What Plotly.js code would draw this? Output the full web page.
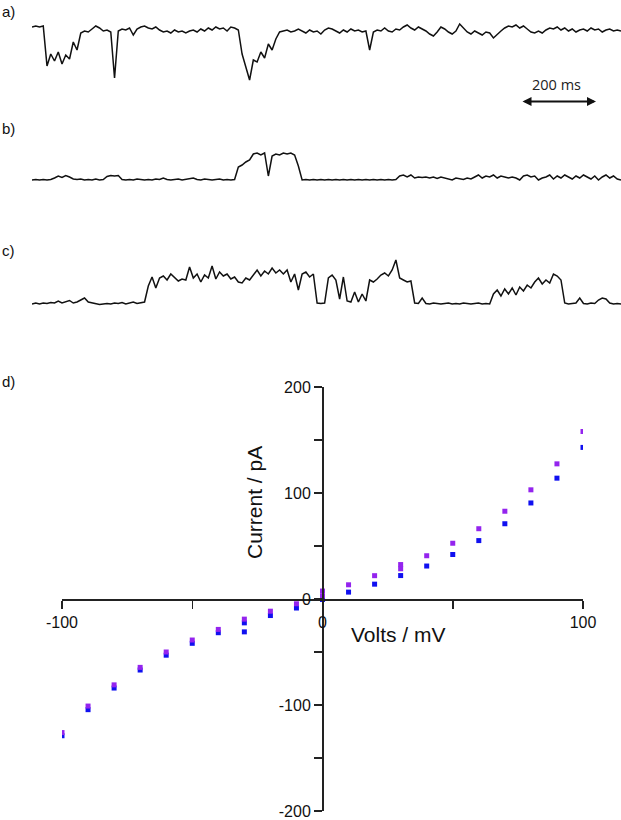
<!DOCTYPE html>
<html>
<head>
<meta charset="utf-8">
<script src="https://cdn.plot.ly/plotly-3.0.1.min.js"></script>
<style>
html,body{margin:0;padding:0;background:#fff;}
#chart{width:621px;height:820px;}
</style>
</head>
<body>
<div id="chart"></div>
<script>
// ---------- data ----------
const DT_MS = 10; // sampling interval of the single-channel recordings (ms)

// trace a) current relative to baseline (arbitrary units)
const traceA = [3,4,3,4,-36,-24,-31,-22,-34,-25,-29,-12,-20,-3,-1,-2,1,4,2,-1,
  0,-2,-48,-1,1,0,2,-5,1,3,4,2,1,3,0,-2,-1,-3,0,-2,
  -1,-3,-1,0,-2,1,-1,2,0,3,1,2,-1,3,2,0,-24,-36,-50,-30,
  -32,-22,-28,-14,-20,-9,-2,-1,0,-2,-1,1,-1,-3,0,-2,-1,-4,0,2,
  1,-1,-3,0,-2,1,-1,0,-2,-1,-20,-2,0,-1,2,-1,-2,1,0,3,
  5,2,0,3,1,-1,-4,-6,-2,3,1,-2,-4,-1,6,2,-2,-4,-1,-3,
  -5,-2,-3,-8,-4,-1,2,4,3,5,2,4,1,-2,-3,-1,-3,0,2,1,
  3,0,2,-1,1,-2,0,1,-1,2,0,1,-2,0,1,-1,0,-1];

// trace b)
const traceB = [0,0.5,0,0.5,0,0.5,2,4,2.5,4.5,3,1,0.5,1,0,0.5,0,1,0,0.5,
  3.5,4.5,4,4.5,0.5,0,0.5,0,1,0.5,0,0.5,0,1,0.5,2,0.5,0,0.5,1,
  0,0.5,1,2,0.5,0,1,0.5,0,0.5,1,0,0.5,0,0.5,13,15,18,20,26,
  27,25,27,4,24,26,25,27,26,27,25,14,0,0.5,0,0.5,0,0.5,0,0.5,
  0,0.5,0,0.5,0,0.5,0,0.5,0,0.5,0,0.5,0,0.5,0,0.5,0,0.5,4,5,
  3,5,2,3,2.5,3,2,3,1.5,3,2,1,0,2,1,0.5,2,1,3,5,
  2,4,3,5,2,4,3,2,3,2,0,4,5,3,4,0,2,3,5,1,
  4,2,5,3,1,4,2,5,3,1,4,0,3,5,2,4,1,0];

// trace c)
const traceC = [0,1,0,1,0.5,1.5,1,3,1,2,3.5,1,2,4,6,2,1,0,-0.5,0,
  0.5,0,1,0.5,1.5,0,1,2,0.5,1,2,18,27,16,26,28,24,30,26,23,
  25,24,37,26,30,22,29,26,38,25,32,28,30,25,27,22,21,26,24,29,
  34,28,33,30,36,31,34,30,34,22,30,14,30,32,27,30,1,0.5,1,26,
  29,24,5,27,3,2,12,2,10,3,24,22,25,29,31,28,34,44,26,24,
  22,23,1,0.5,6,0.5,0,1,0.5,0,0.5,1,0,0.5,0,1,0.5,0,0.5,1,
  0,0.5,0,10,14,8,15,10,16,9,17,13,19,16,22,26,20,24,21,30,
  28,24,1,0,0.5,1,6,0.5,0,1,0.5,4,6,5,1,0,0.5,0];

// d) current-voltage relation
const voltsBlue   = [-100,-90,-80,-70,-60,-50,-40,-30,-30,-20,-10,0,10,20,30,40,50,60,70,80,90,100];
const currentBlue = [-129,-104.4,-84,-67,-53,-41.8,-31.8,-22.5,-31,-15.6,-8.5,-0.5,6.5,14,22.1,31.1,42,55.1,71,90.6,114,143];
const voltsPurple   = [-100,-90,-80,-70,-60,-50,-40,-30,-20,-10,0,0,10,20,30,30,40,50,60,70,80,90,100];
const currentPurple = [-126,-101,-81,-64.5,-50,-38.7,-28.7,-19,-11.5,-4.5,3,7.5,13.4,22,28.5,32.5,40.8,52.6,66.3,82.8,103,127.5,158];

const xTickVals = [-100,-50,0,50,100];
const xTickText = ['-100','','0','','100'];
const yTickVals = [-200,-150,-100,-50,0,50,100,150,200];
const yTickText = ['-200','','-100','','0','','100','','200'];

// ---------- layout helpers ----------
const W = 621, H = 820;
const px = v => v / W;
const py = v => 1 - v / H;
const times = arr => arr.map((_, i) => i * DT_MS);
const FONT = 'Liberation Sans, Arial, sans-serif';

const recLine = {color: '#111', width: 1.5};
const traces = [
  {x: times(traceA), y: traceA, xaxis: 'x2', yaxis: 'y2', mode: 'lines', line: recLine, hoverinfo: 'skip'},
  {x: times(traceB), y: traceB, xaxis: 'x3', yaxis: 'y3', mode: 'lines', line: recLine, hoverinfo: 'skip'},
  {x: times(traceC), y: traceC, xaxis: 'x4', yaxis: 'y4', mode: 'lines', line: recLine, hoverinfo: 'skip'},
  {x: voltsBlue, y: currentBlue, xaxis: 'x', yaxis: 'y', mode: 'markers',
   marker: {symbol: 'square', size: 5, color: '#1010f0'}},
  {x: voltsPurple, y: currentPurple, xaxis: 'x', yaxis: 'y', mode: 'markers',
   marker: {symbol: 'square', size: 5, color: '#9424ee'}}
];

const T_END = 1570;
const hidden = (dom, range) => ({domain: dom, range: range, visible: false, fixedrange: true});

const layout = {
  width: W, height: H,
  margin: {l: 0, r: 0, t: 0, b: 0},
  paper_bgcolor: '#fff', plot_bgcolor: 'rgba(0,0,0,0)',
  showlegend: false,
  font: {family: FONT, color: '#111'},
  xaxis2: Object.assign(hidden([px(32), 1], [0, T_END]), {anchor: 'y2'}),
  yaxis2: Object.assign(hidden([py(90), py(10)], [-60, 20]), {anchor: 'x2'}),
  xaxis3: Object.assign(hidden([px(32), 1], [0, T_END]), {anchor: 'y3'}),
  yaxis3: Object.assign(hidden([py(200), py(130)], [-20, 50]), {anchor: 'x3'}),
  xaxis4: Object.assign(hidden([px(32), 1], [0, T_END]), {anchor: 'y4'}),
  yaxis4: Object.assign(hidden([py(320), py(240)], [-16, 64]), {anchor: 'x4'}),
  xaxis: {
    domain: [px(62), px(583)], range: [-100, 100],
    anchor: 'free', position: py(599), side: 'bottom',
    showgrid: false, zeroline: false, showline: true, linecolor: '#222', linewidth: 1.5,
    ticks: 'outside', ticklen: 8, tickwidth: 1.5, tickcolor: '#222',
    tickmode: 'array', tickvals: xTickVals, ticktext: xTickText,
    ticklabeloverflow: 'allow',
    tickfont: {family: FONT, size: 16, color: '#111'}
  },
  yaxis: {
    domain: [py(811), py(387)], range: [-200, 200],
    anchor: 'free', position: px(322), side: 'left',
    showgrid: false, zeroline: false, showline: true, linecolor: '#222', linewidth: 1.5,
    ticks: 'outside', ticklen: 8, tickwidth: 1.5, tickcolor: '#222',
    tickmode: 'array', tickvals: yTickVals, ticktext: yTickText,
    ticklabeloverflow: 'allow',
    tickfont: {family: FONT, size: 16, color: '#111'}
  },
  annotations: [
    {text: 'a)', xref: 'paper', yref: 'paper', x: 0, y: py(11), xanchor: 'left', yanchor: 'middle', showarrow: false, font: {family: FONT, size: 15, color: '#111'}},
    {text: 'b)', xref: 'paper', yref: 'paper', x: 0, y: py(128), xanchor: 'left', yanchor: 'middle', showarrow: false, font: {family: FONT, size: 15, color: '#111'}},
    {text: 'c)', xref: 'paper', yref: 'paper', x: 0, y: py(250), xanchor: 'left', yanchor: 'middle', showarrow: false, font: {family: FONT, size: 15, color: '#111'}},
    {text: 'd)', xref: 'paper', yref: 'paper', x: 0, y: py(381), xanchor: 'left', yanchor: 'middle', showarrow: false, font: {family: FONT, size: 15, color: '#111'}},
    {text: '200 ms', xref: 'paper', yref: 'paper', x: px(556), y: py(85), xanchor: 'center', yanchor: 'middle', showarrow: false, font: {family: 'Open Sans, sans-serif', size: 14.5, color: '#222'}},
    {text: '', xref: 'paper', yref: 'paper', x: px(596), y: py(101.5), ax: -75, ay: 0, axref: 'pixel', ayref: 'pixel',
     showarrow: true, arrowside: 'end+start', arrowhead: 2, arrowsize: 1, arrowwidth: 1.8, arrowcolor: '#111'},
    {text: 'Current / pA', xref: 'paper', yref: 'paper', x: px(254), y: py(503), textangle: -90, xanchor: 'center', yanchor: 'middle', showarrow: false, font: {family: FONT, size: 21, color: '#111'}},
    {text: 'Volts / mV', xref: 'paper', yref: 'paper', x: px(398), y: py(634), xanchor: 'center', yanchor: 'middle', showarrow: false, font: {family: FONT, size: 21, color: '#111'}}
  ]
};

Plotly.newPlot('chart', traces, layout, {staticPlot: true, displayModeBar: false});
</script>
</body>
</html>
